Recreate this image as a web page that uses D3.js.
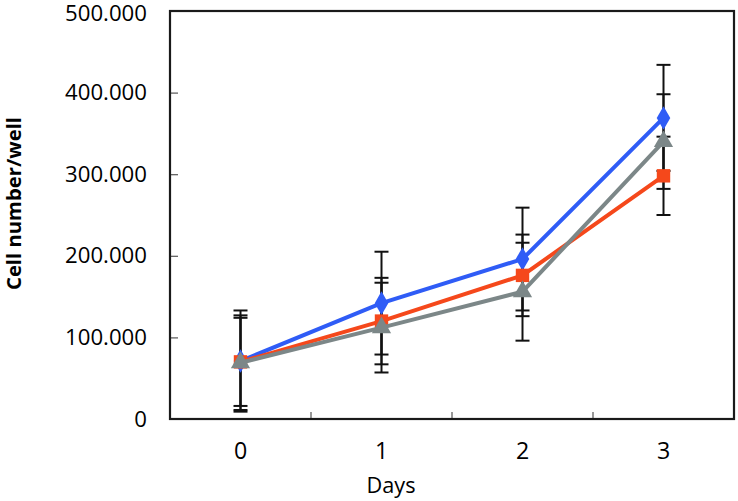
<!DOCTYPE html>
<html><head><meta charset="utf-8">
<script src="https://cdn.jsdelivr.net/npm/d3@7"></script>
<style>body{margin:0;background:#fff}svg{display:block}</style>
</head><body><svg id="c" width="738" height="501"></svg>
<script>
const days = ["0", "1", "2", "3"];
const blueValues = [71000, 142000, 196000, 369000];
const blueErrors = [62000, 63000, 63000, 65000];
const redValues = [70000, 120000, 176000, 298000];
const redErrors = [54000, 53000, 50000, 48000];
const grayValues = [69000, 112000, 156000, 340000];
const grayErrors = [58000, 55000, 60000, 58000];
const yTicks = [0, 100000, 200000, 300000, 400000, 500000];

const series = [
  {name: "blue", values: blueValues, errors: blueErrors, color: "#2f5cf6", shape: d3.symbolDiamond},
  {name: "red", values: redValues, errors: redErrors, color: "#f5481b", shape: d3.symbolSquare},
  {name: "gray", values: grayValues, errors: grayErrors, color: "#7c8788", shape: d3.symbolTriangle}
];

const svg = d3.select("#c");
const L = 170, R = 734, T = 11, B = 419;
const x = d3.scaleBand().domain(days).range([L, R]);
const y = d3.scaleLinear().domain([0, 500000]).range([B, T]);
const loc = d3.formatLocale({decimal: ",", thousands: ".", grouping: [3], currency: ["", ""]});
const fmt = loc.format(",");
const cx = d => x(d) + x.bandwidth() / 2;
const font = "'Open Sans', 'Noto Sans', sans-serif";

function fitWidth(sel, target, base) {
  const n = sel.node();
  const w = n.getComputedTextLength();
  return base * target / w;
}

// y axis
const yAxis = svg.append("g").attr("transform", `translate(${L},0)`)
  .call(d3.axisLeft(y).tickValues(yTicks).tickFormat(fmt).tickSizeInner(-8).tickSizeOuter(0).tickPadding(23));
yAxis.select(".domain").remove();
yAxis.selectAll(".tick line").attr("stroke", "#555").attr("stroke-width", 1.2);
yAxis.selectAll("text").attr("font-family", font).attr("font-size", 20).attr("fill", "#000");
yAxis.selectAll(".tick").filter(d => d === 0 || d === 500000).select("line").remove();
const topLabel = yAxis.selectAll(".tick").filter(d => d === 500000).select("text");
const tfs = fitWidth(topLabel, 82, 20);
yAxis.selectAll("text").attr("font-size", tfs);
topLabel.attr("dy", "0.42em");

// x axis labels
const xAxis = svg.append("g").attr("transform", `translate(0,${B})`)
  .call(d3.axisBottom(x).tickSize(0).tickPadding(24));
xAxis.select(".domain").remove();
xAxis.selectAll("text").attr("font-family", font).attr("font-size", tfs + 1).attr("fill", "#000");
// x tick marks at band boundaries
svg.append("g").selectAll("line").data(days.slice(1)).join("line")
  .attr("x1", d => x(d)).attr("x2", d => x(d))
  .attr("y1", B).attr("y2", B - 7)
  .attr("stroke", "#555").attr("stroke-width", 1.2);

// frame
svg.append("rect").attr("x", L).attr("y", T).attr("width", R - L).attr("height", B - T)
  .attr("fill", "none").attr("stroke", "#1a1a1a").attr("stroke-width", 2.2);

// titles
const daysT = svg.append("text").attr("x", 391).attr("y", 493).attr("text-anchor", "middle")
  .attr("font-family", font).attr("font-size", 20).attr("fill", "#000").text("Days");
daysT.attr("font-size", fitWidth(daysT, 49, 20));
const yT = svg.append("text").attr("transform", `translate(21,${(117 + 290) / 2}) rotate(-90)`)
  .attr("text-anchor", "middle").attr("font-family", font).attr("font-size", 17).attr("font-weight", "bold")
  .attr("fill", "#000").text("Cell number/well");
yT.attr("font-size", fitWidth(yT, 173, 17));

// error bars
const eb = svg.append("g");
series.forEach(s => {
  days.forEach((d, i) => {
    const top = y(s.values[i] + s.errors[i]), bot = y(s.values[i] - s.errors[i]);
    eb.append("line").attr("x1", cx(d)).attr("x2", cx(d)).attr("y1", top).attr("y2", bot)
      .attr("stroke", "#111").attr("stroke-width", 2);
    [top, bot].forEach(yy => eb.append("line").attr("x1", cx(d) - 7).attr("x2", cx(d) + 7)
      .attr("y1", yy).attr("y2", yy).attr("stroke", "#111").attr("stroke-width", 2));
  });
});

// lines and markers
const line = d3.line().x((v, i) => cx(days[i])).y(v => y(v));
series.forEach(s => {
  svg.append("path").datum(s.values).attr("d", line).attr("fill", "none")
    .attr("stroke", s.color).attr("stroke-width", 4);
  svg.append("g").selectAll("path").data(s.values).join("path")
    .attr("transform", (v, i) => `translate(${cx(days[i])},${y(v)})`)
    .attr("d", d3.symbol().type(s.shape).size(s.shape === d3.symbolSquare ? 180 : 160))
    .attr("fill", s.color);
});
</script></body></html>
